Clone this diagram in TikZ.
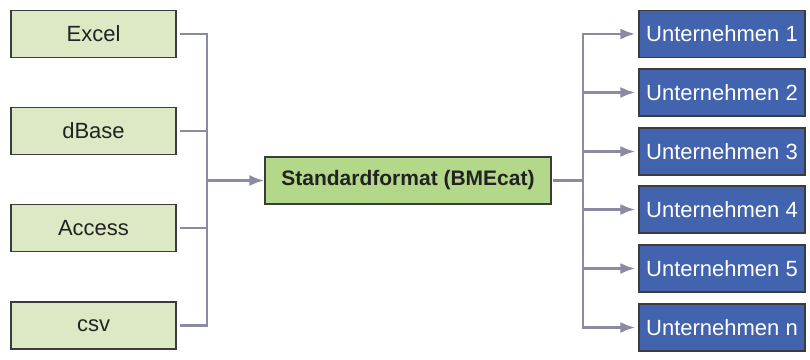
\documentclass[tikz,border=0pt]{standalone}
\usepackage{fontspec}
\setmainfont{Liberation Sans}
\usetikzlibrary{arrows.meta}
\definecolor{srcgreen}{HTML}{DCE9C4}
\definecolor{midgreen}{HTML}{B4D889}
\definecolor{corpblue}{HTML}{4264AE}
\definecolor{connc}{HTML}{8B8AA3}
\definecolor{edgec}{HTML}{3C3C3C}
\definecolor{txtc}{HTML}{222222}
\begin{document}
\begin{tikzpicture}[x=1pt,y=-1pt,
  box/.style={draw=edgec,line width=1.1pt,minimum height=47pt,inner sep=0pt,
    font=\fontsize{22}{26}\selectfont},
  srcbox/.style={box,fill=srcgreen,minimum width=165pt,text=txtc},
  midbox/.style={box,fill=midgreen,minimum width=286pt,text=txtc,font=\fontsize{21}{25}\selectfont\bfseries},
  tgtbox/.style={box,fill=corpblue,minimum width=166pt,text=white},
  conn/.style={draw=connc,line width=2.8pt},
  arr/.style={conn,-{Latex[length=15pt,width=11pt]}}]
\useasboundingbox (0,0) rectangle (810,359);
% sources
\node[srcbox] (excel)  at (93.5,34)  {Excel};
\node[srcbox] (dbase)  at (93.5,131) {dBase};
\node[srcbox] (access) at (93.5,228) {Access};
\node[srcbox] (csv)    at (93.5,325.5) {csv};
% center
\node[midbox] (std) at (408,180.5) {Standardformat (BMEcat)};
% targets
\node[tgtbox] (u1) at (722,34)    {Unternehmen 1};
\node[tgtbox] (u2) at (722,92.5)  {Unternehmen 2};
\node[tgtbox] (u3) at (722,151.5) {Unternehmen 3};
\node[tgtbox] (u4) at (722,209.5) {Unternehmen 4};
\node[tgtbox] (u5) at (722,268.5) {Unternehmen 5};
\node[tgtbox] (un) at (722,327.5) {Unternehmen n};
% junctions
\coordinate (jl) at (207,180.5);
\coordinate (jr) at (583,180.5);
% left connectors
\draw[conn] ([xshift=3pt]excel.east) -| (jl);
\draw[conn] ([xshift=3pt]dbase.east) -| (jl);
\draw[conn] ([xshift=3pt]access.east) -| (jl);
\draw[conn] ([xshift=3pt]csv.east) -| (jl);
\draw[arr] (jl) -- (std.west);
% right connectors
\draw[conn] ([xshift=1pt]std.east) -- (jr);
\draw[arr] (jr) |- ([xshift=-3pt]u1.west);
\draw[arr] (jr) |- ([xshift=-3pt]u2.west);
\draw[arr] (jr) |- ([xshift=-3pt]u3.west);
\draw[arr] (jr) |- ([xshift=-3pt]u4.west);
\draw[arr] (jr) |- ([xshift=-3pt]u5.west);
\draw[arr] (jr) |- ([xshift=-3pt]un.west);
\end{tikzpicture}
\end{document}
